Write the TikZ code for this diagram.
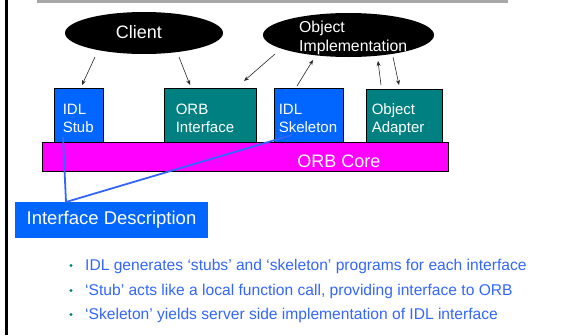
\documentclass[tikz,border=0pt]{standalone}
\usepackage{fontspec}
\setmainfont{Liberation Sans}
\usetikzlibrary{arrows.meta,shapes.geometric}
\definecolor{stubblue}{HTML}{0066FF}
\definecolor{orbteal}{HTML}{008080}
\definecolor{coremag}{HTML}{FF00FF}
\definecolor{linkblue}{HTML}{3366FF}
\definecolor{bulletteal}{HTML}{008080}
\definecolor{stripgray}{HTML}{A8A8A8}

\begin{document}
\begin{tikzpicture}[x=1pt,y=-1pt,
  oval/.style={ellipse, fill=black, inner sep=0pt},
  compbox/.style={draw=black, line width=0.8pt, inner sep=0pt},
  boxlabel/.style={text=white, align=left, inner sep=0pt, anchor=west,
    font=\fontsize{15}{18}\selectfont},
  ovallabel/.style={text=white, align=left, inner sep=0pt},
  callarrow/.style={draw=black!85, line width=0.6pt,
    -{Stealth[length=5pt,width=4pt]}},
  idlline/.style={draw=linkblue, line width=1.8pt},
  bullettext/.style={text=linkblue, anchor=west, inner sep=0pt,
    font=\fontsize{15.6}{18}\selectfont},
  bulletdot/.style={circle, fill=bulletteal, inner sep=0pt, minimum size=3.2pt}
]
\useasboundingbox (0,0) rectangle (562,335);

% frame pieces: grey strip on top, black rule on the left
\fill[stripgray] (37,0) rectangle (508,3);
\fill[black] (5,0) rectangle (7.5,335);

% client and server ellipses
\node[oval, minimum width=158, minimum height=42] (client) at (144,33) {};
\node[ovallabel, font=\fontsize{18}{21}\selectfont] (clienttxt) at (139,32) {Client};
\node[oval, minimum width=171, minimum height=44] (objimpl) at (348.5,35) {};
\node[ovallabel, anchor=west, font=\fontsize{15.8}{19}\selectfont] (objimpltxt)
  at (299,37.5) {Object\\Implementation};

% ORB core bar
\node[compbox, fill=coremag, minimum width=406, minimum height=29] (core) at (245,156.5) {};
\node[ovallabel, font=\fontsize{18}{21}\selectfont] (coretxt) at (339,161) {ORB Core};

% components sitting on the core
\node[compbox, fill=stubblue, minimum width=49, minimum height=54] (stub) at (78.5,115) {};
\node[boxlabel] (stubtxt) at ([xshift=9pt,yshift=-3pt]stub.west) {IDL\\Stub};

\node[compbox, fill=orbteal, minimum width=92, minimum height=54] (orbif) at (210,115) {};
\node[boxlabel] (orbiftxt) at ([xshift=12pt,yshift=-3pt]orbif.west) {ORB\\Interface};

\node[compbox, fill=stubblue, minimum width=69, minimum height=54] (skel) at (308.5,115) {};
\node[boxlabel] (skeltxt) at ([xshift=5pt,yshift=-3pt]skel.west) {IDL\\Skeleton};

\node[compbox, fill=orbteal, minimum width=76, minimum height=53] (adapter) at (404,115.5) {};
\node[boxlabel] (adaptertxt) at ([xshift=6pt,yshift=-4pt]adapter.west) {Object\\Adapter};

% interface description callout
\node[fill=stubblue, minimum width=193, minimum height=36, inner sep=0pt,
  text=white, font=\fontsize{18.5}{21}\selectfont] (idesc) at (111.5,220) {Interface Description};

% end points of the call arrows
\coordinate (c1) at (95,57);   \coordinate (s1) at (82,85);
\coordinate (c2) at (179,57);  \coordinate (o1) at (190,85);
\coordinate (i1) at (275,54);  \coordinate (o2) at (244,81);
\coordinate (k1) at (297,86);  \coordinate (i2) at (313,60);
\coordinate (a1) at (381,85);  \coordinate (i3) at (378,61);
\coordinate (i4) at (393,57);  \coordinate (a2) at (399,85);

\draw[callarrow] (c1) -- (s1);
\draw[callarrow] (c2) -- (o1);
\draw[callarrow] (i1) -- (o2);
\draw[callarrow] (k1) -- (i2);
\draw[callarrow] (a1) -- (i3);
\draw[callarrow] (i4) -- (a2);

% description lines into stub and skeleton
\coordinate (dtop) at (66,202);
\coordinate (stubin) at (63,137);
\coordinate (skelin) at (292,135);
\draw[idlline] (dtop) -- (stubin);
\draw[idlline] (dtop) -- (skelin);

% bullet list
\node[bulletdot] (b1) at (71,265.5) {};
\node[bullettext] (t1) at (85,266) {IDL generates ‘stubs’ and ‘skeleton’ programs for each interface};
\node[bulletdot] (b2) at (71,290.5) {};
\node[bullettext] (t2) at (85,291) {‘Stub’ acts like a local function call, providing interface to ORB};
\node[bulletdot] (b3) at (71,314.5) {};
\node[bullettext] (t3) at (85,315) {‘Skeleton’ yields server side implementation of IDL interface};
\end{tikzpicture}
\end{document}
